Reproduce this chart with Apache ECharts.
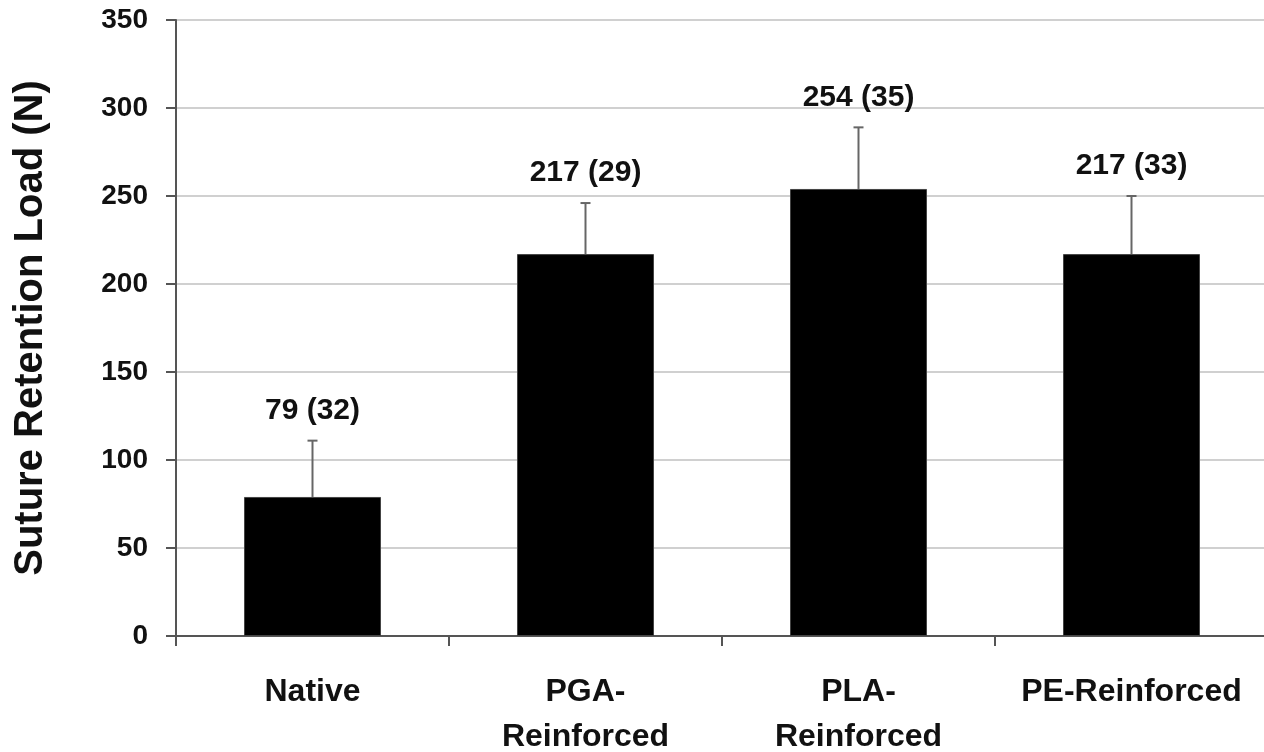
<!DOCTYPE html>
<html>
<head>
<meta charset="utf-8">
<script src="https://cdn.jsdelivr.net/npm/echarts@6/dist/echarts.min.js"></script>
<style>
html,body{margin:0;padding:0;background:#fff;}
#chart{width:1264px;height:752px;}
</style>
</head>
<body>
<div id="chart"></div>
<script>
const categories = ['Native', 'PGA-\nReinforced', 'PLA-\nReinforced', 'PE-Reinforced'];
const means = [79, 217, 254, 217];
const sds = [32, 29, 35, 33];
const yTicks = { min: 0, max: 350, interval: 50 };
const yTitle = 'Suture Retention Load (N)';

const FONT = '"Liberation Sans", Arial, sans-serif';
const chart = echarts.init(document.getElementById('chart'));

const errData = means.map((m, i) => [i, m, m + sds[i], sds[i]]);

chart.setOption({
  animation: false,
  backgroundColor: '#fff',
  grid: { left: 176, top: 20, width: 1092, height: 616, containLabel: false, outerBoundsMode: 'none' },
  xAxis: {
    type: 'category',
    data: categories,
    boundaryGap: true,
    axisLine: { show: true, lineStyle: { color: '#555', width: 2 } },
    axisTick: { show: true, alignWithLabel: false, length: 10, lineStyle: { color: '#555', width: 2 } },
    axisLabel: { color: '#111', fontFamily: FONT, fontWeight: 'bold', fontSize: 32, lineHeight: 45, margin: 34, interval: 0 },
    splitLine: { show: false }
  },
  yAxis: {
    type: 'value',
    min: yTicks.min, max: yTicks.max, interval: yTicks.interval,
    name: yTitle,
    nameLocation: 'middle',
    nameGap: 125,
    nameRotate: 90,
    nameTextStyle: { color: '#111', fontFamily: FONT, fontWeight: 'bold', fontSize: 40 },
    axisLine: { show: true, lineStyle: { color: '#555', width: 2 } },
    axisTick: { show: true, inside: false, length: 10, lineStyle: { color: '#555', width: 2 } },
    axisLabel: { color: '#111', fontFamily: FONT, fontWeight: 'bold', fontSize: 28, margin: 28 },
    splitLine: { show: true, lineStyle: { color: '#d0d0d0', width: 2 } }
  },
  series: [
    {
      type: 'bar',
      data: means,
      barWidth: 137,
      itemStyle: { color: '#000', borderColor: '#444', borderWidth: 1 },
      z: 2
    },
    {
      type: 'custom',
      data: errData,
      z: 3,
      renderItem: function (params, api) {
        const x = api.value(0);
        const top = api.coord([x, api.value(1)]);
        const hi = api.coord([x, api.value(2)]);
        const cap = 5;
        const style = { stroke: '#666', lineWidth: 2 };
        return {
          type: 'group',
          children: [
            { type: 'line', shape: { x1: hi[0], y1: top[1], x2: hi[0], y2: hi[1] }, style: style },
            { type: 'line', shape: { x1: hi[0] - cap, y1: hi[1], x2: hi[0] + cap, y2: hi[1] }, style: style },
            {
              type: 'text',
              x: hi[0], y: hi[1] - 30,
              style: {
                text: api.value(1) + ' (' + api.value(3) + ')',
                fill: '#111',
                font: 'bold 30px ' + FONT,
                align: 'center',
                verticalAlign: 'middle'
              }
            }
          ]
        };
      }
    }
  ]
});
</script>
</body>
</html>
